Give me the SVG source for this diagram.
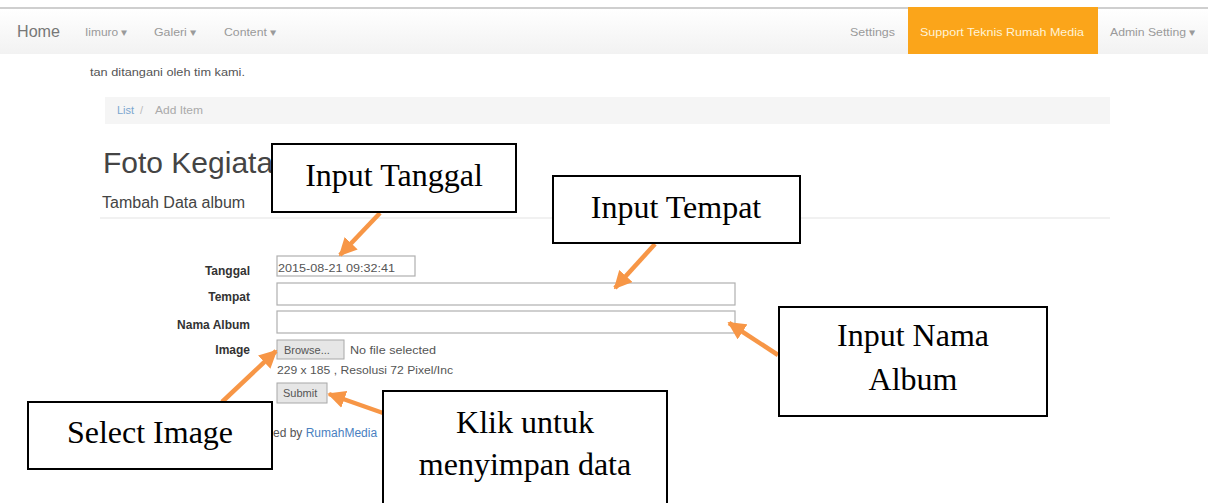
<svg xmlns="http://www.w3.org/2000/svg" width="1208" height="503" viewBox="0 0 1208 503">
<defs>
<style>
.ui{font-family:"Liberation Sans",Arial,sans-serif}
.nav{font-size:11px;fill:#9a9a9a}
.lbl{font-size:12px;fill:#333;font-weight:bold;text-anchor:end}
.small{font-size:11px;fill:#555}
.box{fill:#fff;stroke:#000;stroke-width:2}
.call{font-family:"Liberation Serif","Times New Roman",serif;font-size:32px;fill:#000;text-anchor:middle}
.field{fill:#fff;stroke:#b0b0b0;stroke-width:1.2}
.arr{stroke:#F79646;stroke-width:4.5;fill:none}
.btn{fill:#e6e6e6;stroke:#a8a8a8;stroke-width:1}
</style>
<marker id="ah" viewBox="0 0 10 10" refX="9" refY="5" markerWidth="4" markerHeight="4" orient="auto" markerUnits="strokeWidth">
<path d="M0,0 L10,5 L0,10 z" fill="#F79646"/>
</marker>
<linearGradient id="navg" x1="0" y1="0" x2="0" y2="1">
<stop offset="0" stop-color="#ffffff"/><stop offset="1" stop-color="#f2f2f2"/>
</linearGradient>
</defs>
<rect width="1208" height="503" fill="#fff"/>
<g id="screenshot" class="ui">
<rect x="0" y="8" width="1208" height="46" fill="url(#navg)"/>
<line x1="0" y1="8" x2="1208" y2="8" stroke="#cfcfcf" stroke-width="2"/>
<text x="17" y="37" font-size="16" fill="#777" textLength="43" lengthAdjust="spacingAndGlyphs">Home</text>
<text x="85" y="36" class="nav" textLength="43" lengthAdjust="spacingAndGlyphs">Iimuro ▾</text>
<text x="154" y="36" class="nav" textLength="43" lengthAdjust="spacingAndGlyphs">Galeri ▾</text>
<text x="224" y="36" class="nav" textLength="53" lengthAdjust="spacingAndGlyphs">Content ▾</text>
<text x="850" y="36" class="nav" textLength="45" lengthAdjust="spacingAndGlyphs">Settings</text>
<rect x="908" y="7" width="190" height="47" fill="#FBA51A"/>
<text x="920" y="36" font-size="11" fill="#fff3d6" textLength="164" lengthAdjust="spacingAndGlyphs">Support Teknis Rumah Media</text>
<text x="1110" y="36" class="nav" textLength="86" lengthAdjust="spacingAndGlyphs">Admin Setting ▾</text>
<text x="90" y="76" class="small" fill="#444" textLength="155" lengthAdjust="spacingAndGlyphs">tan ditangani oleh tim kami.</text>
<rect x="105" y="97" width="1005" height="27" fill="#f5f5f5"/>
<text x="117" y="114" font-size="11" fill="#7aa6cf">List</text>
<text x="140" y="114" font-size="11" fill="#bbb">/</text>
<text x="155" y="114" font-size="11" fill="#aaa" textLength="48" lengthAdjust="spacingAndGlyphs">Add Item</text>
<text x="103" y="173" font-size="30" fill="#444">Foto Kegiata</text>
<text x="102" y="208" font-size="16" fill="#444">Tambah Data album</text>
<line x1="100" y1="218" x2="1110" y2="218" stroke="#ececec" stroke-width="1.5"/>
<text x="250" y="275" class="lbl">Tanggal</text>
<text x="250" y="301" class="lbl">Tempat</text>
<text x="250" y="329" class="lbl">Nama Album</text>
<text x="250" y="354" class="lbl">Image</text>
<rect x="277" y="256" width="138" height="20" class="field"/>
<text x="278" y="272" class="small" fill="#444" textLength="117" lengthAdjust="spacingAndGlyphs">2015-08-21 09:32:41</text>
<rect x="277" y="283" width="458" height="22" class="field"/>
<rect x="277" y="311" width="458" height="22" class="field"/>
<rect x="277" y="340" width="67" height="19" class="btn"/>
<text x="284" y="354" class="small" fill="#333">Browse...</text>
<text x="350" y="354" class="small" fill="#999" textLength="86" lengthAdjust="spacingAndGlyphs">No file selected</text>
<text x="277" y="374" class="small" fill="#888" textLength="176" lengthAdjust="spacingAndGlyphs">229 x 185 , Resolusi 72 Pixel/Inc</text>
<rect x="277" y="383" width="50" height="20" class="btn"/>
<text x="283" y="397" class="small" fill="#333">Submit</text>
<text x="273" y="437" font-size="12" fill="#555">ed by <tspan fill="#4a7fbf">RumahMedia</tspan></text>
</g>
<g id="connectors">
<line x1="380" y1="213" x2="340" y2="255" class="arr" marker-end="url(#ah)"/>
<line x1="655" y1="244" x2="615" y2="288" class="arr" marker-end="url(#ah)"/>
<line x1="778" y1="355" x2="729" y2="323" class="arr" marker-end="url(#ah)"/>
<line x1="222" y1="402" x2="276" y2="351" class="arr" marker-end="url(#ah)"/>
<line x1="383" y1="413" x2="329" y2="394" class="arr" marker-end="url(#ah)"/>
</g>
<g id="node-tanggal">
<rect x="272" y="144" width="244" height="68" class="box"/>
<text x="394" y="186" class="call">Input Tanggal</text>
</g>
<g id="node-tempat">
<rect x="553" y="176" width="247" height="67" class="box"/>
<text x="676" y="218" class="call">Input Tempat</text>
</g>
<g id="node-nama">
<rect x="779" y="307" width="268" height="109" class="box"/>
<text x="913" y="346" class="call">Input Nama</text>
<text x="913" y="390" class="call">Album</text>
</g>
<g id="node-select">
<rect x="28" y="402" width="244" height="67" class="box"/>
<text x="150" y="443" class="call">Select Image</text>
</g>
<g id="node-klik">
<rect x="383" y="391" width="284" height="120" class="box"/>
<text x="525" y="433" class="call">Klik untuk</text>
<text x="525" y="475" class="call">menyimpan data</text>
</g>
</svg>
